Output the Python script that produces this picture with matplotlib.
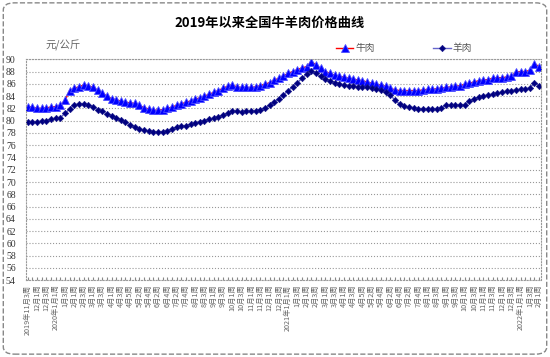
import matplotlib
matplotlib.use("Agg")
import matplotlib.pyplot as plt
from matplotlib.patches import FancyBboxPatch

plt.rcParams['font.family'] = ['Noto Sans CJK SC', 'DejaVu Sans']

# weeks per month, starting 2019年11月第3周
months = [(2019, 11, [3, 4]), (2019, 12, [1, 2, 3, 4])]
weeks_2020 = [4, 4, 4, 5, 4, 4, 5, 4, 4, 4, 4, 4]
weeks_2021 = [4, 4, 4, 5, 4, 4, 5, 4, 4, 4, 4, 4]
for m, n in enumerate(weeks_2020):
    months.append((2020, m + 1, list(range(1, n + 1))))
for m, n in enumerate(weeks_2021):
    months.append((2021, m + 1, list(range(1, n + 1))))
months.append((2022, 1, [1, 2, 3, 4]))
months.append((2022, 2, [1]))

labels = []
for y, m, wks in months:
    for w in wks:
        if len(labels) == 0 or (m == 1 and w == 1):
            labels.append(f"{y}年{m}月{w}周")
        else:
            labels.append(f"{m}月{w}周")

beef = [82.3, 82.2, 82.0, 82.0, 82.1, 82.2, 82.3, 82.5, 83.3, 84.9,
        85.3, 85.5, 85.8, 85.7, 85.4, 85.0, 84.5, 84.0, 83.6, 83.4,
        83.2, 83.0, 82.9, 82.8, 82.5, 82.1, 81.9, 81.7, 81.7, 81.8,
        82.0, 82.2, 82.5, 82.7, 83.0, 83.2, 83.5, 83.7, 84.0, 84.3,
        84.6, 84.9, 85.3, 85.6, 85.8, 85.5, 85.4, 85.4, 85.4, 85.5,
        85.7, 85.9, 86.2, 86.6, 86.9, 87.3, 87.7, 88.0, 88.3, 88.6,
        88.8, 89.6, 89.1, 88.5, 88.0, 87.7, 87.4, 87.2, 87.1, 86.9,
        86.8, 86.6, 86.5, 86.3, 86.1, 85.9, 85.8, 85.6, 85.3, 85.0,
        84.9, 84.9, 84.9, 84.9, 84.9, 85.0, 85.1, 85.1, 85.2, 85.3,
        85.4, 85.5, 85.6, 85.7, 85.9, 86.1, 86.3, 86.5, 86.6, 86.7,
        86.9, 87.0, 87.0, 87.1, 87.2, 87.9, 88.0, 88.0, 88.2, 89.3,
        88.8]

mutton = [79.8, 79.8, 79.8, 79.9, 80.0, 80.2, 80.4, 80.5, 81.2, 81.9,
          82.6, 82.7, 82.7, 82.6, 82.2, 81.8, 81.5, 81.1, 80.8, 80.5,
          80.1, 79.7, 79.3, 79.0, 78.7, 78.4, 78.3, 78.2, 78.2, 78.2,
          78.3, 78.6, 79.0, 79.1, 79.2, 79.4, 79.6, 79.8, 80.0, 80.2,
          80.4, 80.6, 80.9, 81.2, 81.5, 81.5, 81.4, 81.5, 81.5, 81.6,
          81.8, 82.1, 82.5, 83.0, 83.6, 84.2, 84.9, 85.5, 86.2, 86.9,
          87.6, 88.1, 87.7, 87.2, 86.8, 86.5, 86.2, 86.0, 85.8, 85.7,
          85.6, 85.5, 85.5, 85.4, 85.3, 85.1, 85.0, 84.6, 84.2, 83.3,
          82.7, 82.4, 82.2, 82.1, 81.9, 81.9, 81.9, 81.9, 81.9, 82.1,
          82.5, 82.5, 82.5, 82.5, 82.6, 83.2, 83.6, 83.8, 84.0, 84.2,
          84.3, 84.5, 84.6, 84.8, 84.9, 85.0, 85.1, 85.2, 85.3, 86.2,
          85.7]

yticks = list(range(54, 91, 2))

fig = plt.figure(figsize=(5.5, 3.57), dpi=100)
ax = fig.add_axes([0.0464, 0.215, 0.938, 0.619])

x = range(len(beef))
ax.plot(x, beef, color='red', lw=1, marker='^', ms=5.5,
        mfc='blue', mec='#4d4dff', mew=0.6, label='牛肉')
ax.plot(x, mutton, color='#6666cc', lw=1, marker='D', ms=3.2,
        mfc='#000080', mec='#1a1a8c', mew=0.5, label='羊肉')

ax.set_xlim(-0.5, len(beef) - 0.5)
ax.set_ylim(54, 90)
ax.set_yticks(yticks)
ax.set_yticklabels([str(v) for v in yticks], family='Liberation Serif',
                   fontsize=7, color='#333333')
ax.set_xticks(list(x))
ax.set_xticklabels([l if i % 2 == 0 else '' for i, l in enumerate(labels)],
                   rotation=90, fontsize=5.2, color='#666666')
ax.tick_params(axis='x', direction='in', length=2, color='#888888', pad=3)
ax.tick_params(axis='y', length=0, pad=7)
ax.grid(axis='y', color='#999999', ls=':', lw=0.8)
for s in ax.spines.values():
    s.set_color('#999999')
    s.set_linestyle(':')
    s.set_linewidth(0.8)

fig.text(0.49, 0.935, '2019年以来全国牛羊肉价格曲线', ha='center', va='center',
         fontsize=9.5, fontweight='bold')
fig.text(0.115, 0.872, '元/公斤', ha='center', va='center', fontsize=7.5,
         color='#666666', style='italic')

ax.legend(loc='lower right', bbox_to_anchor=(0.875, 1.005), ncol=2,
          frameon=False, fontsize=7, handlelength=1.8, columnspacing=6,
          labelcolor='#555555', borderpad=0, handletextpad=0.2)

border = FancyBboxPatch((0.006, 0.008), 0.988, 0.984,
                        boxstyle='round,pad=0,rounding_size=0.02',
                        transform=fig.transFigure, fill=False,
                        ec='#888888', lw=1, ls='--')
fig.patches.append(border)

fig.savefig('out.png', dpi=100)
